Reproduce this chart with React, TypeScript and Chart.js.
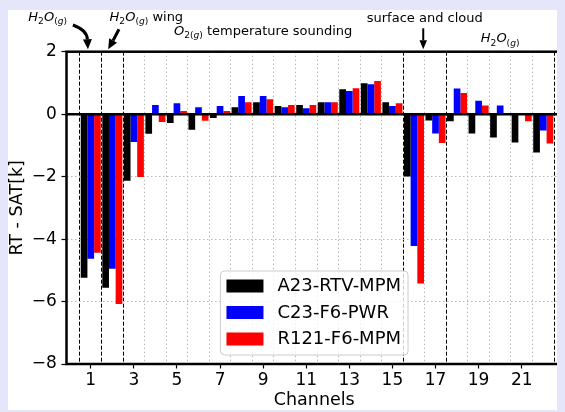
import React, { useEffect, useRef } from "react";
import { Chart, registerables } from "chart.js";

Chart.register(...registerables);

// ---------- data ----------
const CHANNELS = [1, 2, 3, 4, 5, 6, 7, 8, 9, 10, 11, 12, 13, 14, 15, 16, 17, 18, 19, 20, 21, 22];
const TICK_LABELS = [1, 3, 5, 7, 9, 11, 13, 15, 17, 19, 21];
const REGION_BOUNDARIES = [0.5, 1.5, 2.5, 15.5, 17.5, 22.5];
const SERIES_NAMES = ["A23-RTV-MPM", "C23-F6-PWR", "R121-F6-MPM"];
const A23_RTV_MPM = [-5.24, -5.56, -2.13, -0.63, -0.28, -0.5, -0.12, 0.22, 0.38, 0.26, 0.29, 0.38, 0.8, 0.99, 0.38, -2.0, -0.2, -0.23, -0.62, -0.75, -0.91, -1.23];
const C23_F6_PWR = [-4.63, -4.95, -0.89, 0.29, 0.35, 0.22, 0.26, 0.58, 0.58, 0.22, 0.19, 0.38, 0.74, 0.96, 0.26, -4.22, -0.62, 0.82, 0.43, 0.28, 0.0, -0.52];
const R121_F6_MPM = [-4.44, -6.08, -2.01, -0.25, 0.1, -0.21, 0.1, 0.38, 0.48, 0.29, 0.29, 0.38, 0.83, 1.06, 0.35, -5.42, -0.92, 0.68, 0.28, 0.04, -0.23, -0.94];
const Y_MIN = -8;
const Y_MAX = 2;
const Y_STEP = 2;
const X_MIN = -0.126;
const X_MAX = 22.87;

const COLORS = ["#000000", "#0000ff", "#ff0000"];
const FONT = '"DejaVu Sans", sans-serif';

const GRID_LINES = [...CHANNELS.map((c) => c - 0.5), CHANNELS[CHANNELS.length - 1] + 0.5];
const X_TICKS = [...GRID_LINES, ...TICK_LABELS].sort((a, b) => a - b);

type Run = { t: string; it?: boolean; sub?: boolean };
const H2O: Run[] = [
  { t: "H", it: true },
  { t: "2", sub: true },
  { t: "O", it: true },
  { t: "(", sub: true },
  { t: "g", sub: true, it: true },
  { t: ")", sub: true },
];
const O2: Run[] = [
  { t: "O", it: true },
  { t: "2", sub: true },
  { t: "(", sub: true },
  { t: "g", sub: true, it: true },
  { t: ")", sub: true },
];

const ANNOTATION_TEXTS: { runs: Run[]; x: number; dy: number }[] = [
  { runs: H2O, x: -1.0, dy: -30.5 },
  { runs: [...H2O, { t: " wing" }], x: 3.58, dy: -30.5 },
  { runs: [...O2, { t: " temperature sounding" }], x: 9, dy: -17 },
  { runs: [{ t: "surface and cloud" }], x: 16.5, dy: -29.5 },
  { runs: H2O, x: 20, dy: -9.4 },
];

const ARROWS = [
  { from: [0.17, -26.7], ctrl: [0.82, -21.7], to: [0.87, -2.4], lw: 3, hl: 10, hw: 9 },
  { from: [2.31, -22.4], ctrl: [2.1, -13.7], to: [1.81, -2.4], lw: 3, hl: 10, hw: 9 },
  { from: [16.43, -23.4], ctrl: [16.43, -13], to: [16.43, -2.4], lw: 2, hl: 9, hw: 7.5 },
];

function drawRuns(ctx: CanvasRenderingContext2D, runs: Run[], cx: number, baseline: number, size: number) {
  const fontFor = (r: Run) => `${r.it ? "italic " : ""}${r.sub ? size * 0.7 : size}px ${FONT}`;
  let w = 0;
  for (const r of runs) {
    ctx.font = fontFor(r);
    w += ctx.measureText(r.t).width;
  }
  let x = cx - w / 2;
  ctx.textAlign = "left";
  ctx.textBaseline = "alphabetic";
  for (const r of runs) {
    ctx.font = fontFor(r);
    ctx.fillText(r.t, x, baseline + (r.sub ? size * 0.25 : 0));
    x += ctx.measureText(r.t).width;
  }
}

function drawArrow(ctx: CanvasRenderingContext2D, p0: number[], c: number[], p1: number[], lw: number, hl: number, hw: number) {
  const ang = Math.atan2(p1[1] - c[1], p1[0] - c[0]);
  const bx = p1[0] - hl * Math.cos(ang);
  const by = p1[1] - hl * Math.sin(ang);
  ctx.lineWidth = lw;
  ctx.beginPath();
  ctx.moveTo(p0[0], p0[1]);
  ctx.quadraticCurveTo(c[0], c[1], bx, by);
  ctx.stroke();
  ctx.beginPath();
  ctx.moveTo(p1[0], p1[1]);
  ctx.lineTo(bx + (hw / 2) * Math.sin(ang), by - (hw / 2) * Math.cos(ang));
  ctx.lineTo(bx - (hw / 2) * Math.sin(ang), by + (hw / 2) * Math.cos(ang));
  ctx.closePath();
  ctx.fill();
}

const framePlugin = {
  id: "frameAndZero",
  afterDatasetsDraw(chart: any) {
    const { ctx, chartArea: a, scales } = chart;
    const y0 = scales.y.getPixelForValue(0);
    ctx.save();
    ctx.strokeStyle = "#000";
    ctx.lineWidth = 2.5;
    ctx.beginPath();
    ctx.moveTo(a.left, y0);
    ctx.lineTo(a.right, y0);
    ctx.stroke();
    ctx.strokeRect(a.left, a.top, a.right - a.left, a.bottom - a.top);
    ctx.restore();
  },
};

const legendPlugin = {
  id: "boxLegend",
  afterDraw(chart: any) {
    const { ctx, chartArea: a } = chart;
    const fs = 18;
    ctx.save();
    ctx.font = `${fs}px ${FONT}`;
    const items = chart.data.datasets.map((d: any) => ({ label: d.label, color: d.backgroundColor }));
    const tw = Math.max(...items.map((i: any) => ctx.measureText(i.label).width));
    const swW = 37, swH = 13, padL = 6, gap = 14, rowH = 26.5;
    const w = padL + swW + gap + tw + 7;
    const h = 84;
    const cx = (a.left + a.right) / 2;
    const x = cx - w / 2;
    const y = a.bottom - 9 - h;
    ctx.beginPath();
    (ctx as any).roundRect(x, y, w, h, 4);
    ctx.fillStyle = "rgba(255,255,255,0.8)";
    ctx.fill();
    ctx.strokeStyle = "#cccccc";
    ctx.lineWidth = 1;
    ctx.stroke();
    items.forEach((it: any, i: number) => {
      const ry = y + 15 + i * rowH;
      ctx.fillStyle = it.color;
      ctx.fillRect(x + padL, ry - swH / 2, swW, swH);
      ctx.fillStyle = "#000";
      ctx.textAlign = "left";
      ctx.textBaseline = "middle";
      ctx.fillText(it.label, x + padL + swW + gap, ry + 0.5);
    });
    ctx.restore();
  },
};

const annotationPlugin = {
  id: "topAnnotations",
  afterDraw(chart: any) {
    const { ctx, chartArea: a, scales } = chart;
    const xs = scales.x;
    ctx.save();
    ctx.fillStyle = "#000";
    ctx.strokeStyle = "#000";
    for (const an of ANNOTATION_TEXTS) {
      drawRuns(ctx, an.runs, xs.getPixelForValue(an.x), a.top + an.dy, 13);
    }
    for (const ar of ARROWS) {
      const p0 = [xs.getPixelForValue(ar.from[0]), a.top + ar.from[1]];
      const c = [xs.getPixelForValue(ar.ctrl[0]), a.top + ar.ctrl[1]];
      const p1 = [xs.getPixelForValue(ar.to[0]), a.top + ar.to[1]];
      drawArrow(ctx, p0, c, p1, ar.lw, ar.hl, ar.hw);
    }
    ctx.restore();
  },
};

const isBoundary = (v: number) => REGION_BOUNDARIES.includes(v);
const isGrid = (v: number) => GRID_LINES.includes(v);

export default function App() {
  const ref = useRef<HTMLCanvasElement>(null);
  useEffect(() => {
    document.body.style.background = "#e6e6fa";
    const canvas = ref.current!;
    const seriesValues = [A23_RTV_MPM, C23_F6_PWR, R121_F6_MPM];
    const chart = new Chart(canvas, {
      type: "bar",
      data: {
        datasets: SERIES_NAMES.map((name, k) => ({
          label: name,
          data: CHANNELS.map((c, i) => ({ x: c, y: seriesValues[k][i] })),
          backgroundColor: COLORS[k],
          borderWidth: 0,
          // the bar ruler uses the half-channel tick spacing, so the group spans 2 × 0.93 of it
          categoryPercentage: 1.86,
          barPercentage: 1,
        })),
      },
      options: {
        animation: false,
        responsive: false,
        devicePixelRatio: 1,
        layout: { padding: { top: 41.7, right: 3, bottom: 0, left: 0 } },
        plugins: { legend: { display: false }, tooltip: { enabled: false } },
        scales: {
          x: {
            type: "linear",
            min: X_MIN,
            max: X_MAX,
            offset: false,
            afterBuildTicks: (scale: any) => {
              scale.ticks = X_TICKS.map((v) => ({ value: v }));
            },
            afterFit: (scale: any) => {
              scale.height = 46;
            },
            ticks: {
              autoSkip: false,
              maxRotation: 0,
              minRotation: 0,
              padding: 2.3,
              color: "#000",
              font: { family: FONT, size: 17 },
              callback: (v: any) => (TICK_LABELS.includes(v) ? String(v) : ""),
            },
            grid: {
              offset: false,
              color: (c: any) => {
                const v = c.tick ? c.tick.value : null;
                if (v == null || !isGrid(v)) return "rgba(0,0,0,0)";
                return isBoundary(v) ? "#000000" : "#b8b8b8";
              },
              lineWidth: 1,
              tickColor: (c: any) => (c.tick && TICK_LABELS.includes(c.tick.value) ? "#000" : "rgba(0,0,0,0)"),
              tickLength: 4.5,
              tickWidth: 1.2,
            },
            border: {
              display: false,
              dash: (c: any) => {
                const v = c.tick ? c.tick.value : null;
                if (v == null) return [];
                return isBoundary(v) ? [4, 2] : [1.5, 2.5];
              },
            },
            title: {
              display: true,
              text: "Channels",
              color: "#000",
              font: { family: FONT, size: 17.5, lineHeight: 1 },
              padding: { top: 0, bottom: 0.5 },
            },
          },
          y: {
            type: "linear",
            min: Y_MIN,
            max: Y_MAX,
            afterFit: (scale: any) => {
              scale.width = 58.5;
            },
            ticks: {
              stepSize: Y_STEP,
              padding: 4.8,
              color: "#000",
              font: { family: FONT, size: 17 },
              callback: (v: any) => (v < 0 ? "\u2212" + Math.abs(v) : String(v)),
            },
            grid: {
              color: (c: any) => {
                const v = c.tick ? c.tick.value : null;
                if (v == null || v === 0 || v === Y_MIN || v === Y_MAX) return "rgba(0,0,0,0)";
                return "#b8b8b8";
              },
              lineWidth: 1,
              tickColor: "#000",
              tickLength: 5,
              tickWidth: 1.2,
            },
            border: {
              display: false,
              dash: (c: any) => (c.tick ? [1.5, 2.5] : []),
            },
            title: {
              display: true,
              text: "RT - SAT[k]",
              color: "#000",
              font: { family: FONT, size: 17.5, lineHeight: 1 },
              padding: { top: 0.5, bottom: 0 },
            },
          },
        },
      },
      plugins: [framePlugin, legendPlugin, annotationPlugin],
    } as any);
    return () => chart.destroy();
  }, []);
  return (
    <div style={{ paddingTop: 2 }}>
      <canvas ref={ref} width={557} height={400} style={{ display: "block", background: "#ffffff" }} />
    </div>
  );
}
